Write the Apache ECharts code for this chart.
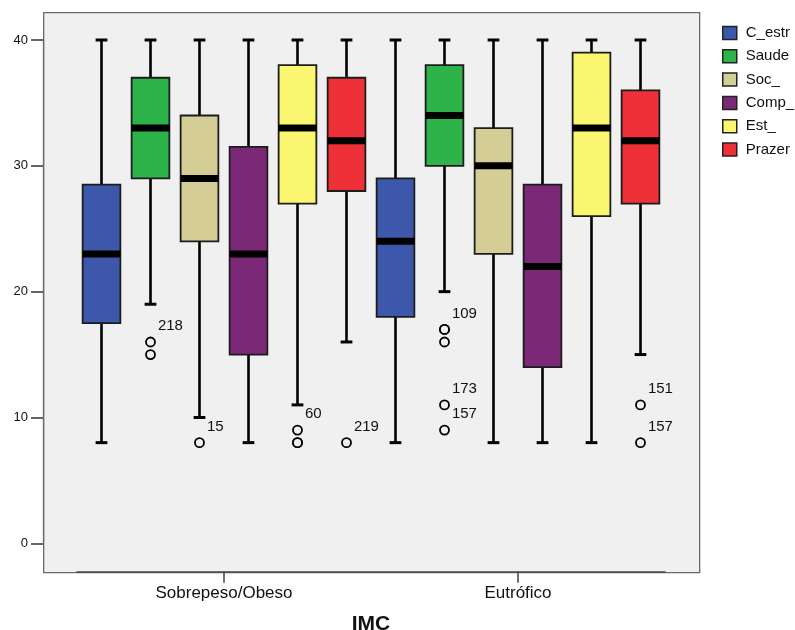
<!DOCTYPE html>
<html>
<head>
<meta charset="utf-8">
<script src="https://cdn.jsdelivr.net/npm/echarts@6/dist/echarts.min.js"></script>
<style>html,body{margin:0;padding:0;background:#fff}#chart{width:795px;height:630px}</style>
</head>
<body>
<div id="chart"></div>
<script>
// ---- data ----
const groups = ['Sobrepeso/Obeso', 'Eutrófico'];
const variables = ['C_estr', 'Saude', 'Soc_', 'Comp_', 'Est_', 'Prazer'];
const yTicks = [0, 10, 20, 30, 40];
// five-number summaries [min, Q1, median, Q3, max] per variable
const boxSobrepeso = [
  [8, 17.5, 23, 28.5, 40],
  [19, 29, 33, 37, 40],
  [10, 24, 29, 34, 40],
  [8, 15, 23, 31.5, 40],
  [11, 27, 33, 38, 40],
  [16, 28, 32, 37, 40]
];
const boxEutrofico = [
  [8, 18, 24, 29, 40],
  [20, 30, 34, 38, 40],
  [8, 23, 30, 33, 40],
  [8, 14, 22, 28.5, 40],
  [8, 26, 33, 39, 40],
  [15, 27, 32, 36, 40]
];
// outliers: [variable index, value, case label]
const outlierSobrepeso = [
  [1, 16, '218'], [1, 15, ''],
  [2, 8, '15'],
  [4, 9, '60'], [4, 8, ''], [4, 8, ''],
  [5, 8, '219']
];
const outlierEutrofico = [
  [1, 17, '109'], [1, 17, ''], [1, 16, ''],
  [1, 11, '173'], [1, 9, '157'],
  [5, 11, '151'], [5, 8, '157']
];

// ---- styles ----
const palette = ['#3d57aa', '#2eb34b', '#d4cd96', '#7b2877', '#fbf66f', '#ee3039'];
const FONT = '"Liberation Sans", Arial, sans-serif';

const nVar = variables.length;
const slots = [];
groups.forEach(g => variables.forEach(v => slots.push(g + ' ' + v)));
const boxesByGroup = [boxSobrepeso, boxEutrofico];
const outliersByGroup = [outlierSobrepeso, outlierEutrofico];

function renderBox(params, api) {
  const x = api.value(0);
  const lo = api.coord([x, api.value(1)]);
  const q1 = api.coord([x, api.value(2)]);
  const md = api.coord([x, api.value(3)]);
  const q3 = api.coord([x, api.value(4)]);
  const hi = api.coord([x, api.value(5)]);
  const band = api.size([1, 0])[0];
  const bw = band * 0.77;
  const cw = band * 0.24;
  const cx = lo[0];
  const color = api.visual('color');
  const wStyle = { stroke: '#000', lineWidth: 2.6 };
  const cStyle = { stroke: '#000', lineWidth: 3 };
  return {
    type: 'group',
    children: [
      { type: 'line', shape: { x1: cx, y1: hi[1], x2: cx, y2: q3[1] }, style: wStyle },
      { type: 'line', shape: { x1: cx, y1: q1[1], x2: cx, y2: lo[1] }, style: wStyle },
      { type: 'line', shape: { x1: cx - cw / 2, y1: hi[1], x2: cx + cw / 2, y2: hi[1] }, style: cStyle },
      { type: 'line', shape: { x1: cx - cw / 2, y1: lo[1], x2: cx + cw / 2, y2: lo[1] }, style: cStyle },
      { type: 'rect', shape: { x: cx - bw / 2, y: q3[1], width: bw, height: q1[1] - q3[1] },
        style: { fill: color, stroke: '#1c1c1c', lineWidth: 1.8 } },
      { type: 'rect', shape: { x: cx - bw / 2, y: md[1] - 3.5, width: bw, height: 7 },
        style: { fill: '#000' } }
    ]
  };
}

const series = variables.map((name, vi) => ({
  name: name,
  type: 'custom',
  xAxisIndex: 0,
  yAxisIndex: 0,
  itemStyle: { color: palette[vi] },
  dimensions: ['slot', 'min', 'Q1', 'median', 'Q3', 'max'],
  encode: { x: 0, y: [1, 2, 3, 4, 5] },
  renderItem: renderBox,
  data: boxesByGroup.map((boxes, gi) => [gi * nVar + vi].concat(boxes[vi]))
}));

const outlierData = [];
outliersByGroup.forEach((list, gi) => list.forEach(o => outlierData.push([gi * nVar + o[0], o[1], o[2]])));

series.push({
  name: 'outliers',
  type: 'scatter',
  xAxisIndex: 0,
  yAxisIndex: 0,
  symbol: 'circle',
  symbolSize: 9,
  itemStyle: { color: '#f0f0f0', borderColor: '#000', borderWidth: 1.8, opacity: 1 },
  label: {
    show: true,
    position: 'right',
    distance: 2,
    offset: [0, -16],
    formatter: p => p.data[2],
    color: '#111',
    fontSize: 15,
    fontFamily: FONT
  },
  emphasis: { disabled: true },
  z: 3,
  data: outlierData
});

const chart = echarts.init(document.getElementById('chart'));
chart.setOption({
  animation: false,
  backgroundColor: '#fff',
  textStyle: { fontFamily: FONT },
  graphic: [{
    type: 'rect',
    left: 43, top: 12,
    shape: { width: 656, height: 560 },
    style: { fill: '#f0f0f0', stroke: '#6a6a6a', lineWidth: 1.3 },
    z: -10,
    silent: true
  }],
  legend: {
    data: variables,
    orient: 'vertical',
    left: 722,
    top: 25.5,
    padding: 0,
    icon: 'rect',
    itemWidth: 14,
    itemHeight: 13,
    itemGap: 8.3,
    itemStyle: { borderColor: '#222', borderWidth: 1.5 },
    textStyle: { fontSize: 15, color: '#111', lineHeight: 15, padding: [0, 0, 0, 4], fontFamily: FONT },
    selectedMode: false
  },
  grid: { left: 77, right: 130, top: 40, bottom: 86.7, containLabel: false, outerBoundsMode: 'none' },
  xAxis: [
    { type: 'category', data: slots, show: false, boundaryGap: true },
    {
      type: 'category', data: groups, position: 'bottom', offset: 28.4, boundaryGap: true,
      axisLine: { show: true, lineStyle: { color: '#444', width: 1.5 } },
      axisTick: { show: true, alignWithLabel: true, length: 11, lineStyle: { color: '#444', width: 1.5 } },
      axisLabel: { fontSize: 17, color: '#111', margin: 13, fontFamily: FONT },
      name: 'IMC', nameLocation: 'middle', nameGap: 42,
      nameTextStyle: { fontSize: 21, fontWeight: 'bold', color: '#111', fontFamily: FONT },
      splitLine: { show: false }
    }
  ],
  yAxis: [{
    type: 'value', min: yTicks[0], max: yTicks[yTicks.length - 1], interval: 10,
    offset: 34,
    axisLine: { show: true, lineStyle: { color: '#6a6a6a', width: 1.3 } },
    axisTick: { show: true, length: 12, lineStyle: { color: '#333', width: 1.5 } },
    axisLabel: { fontSize: 13, color: '#111', margin: 15, fontFamily: FONT },
    splitLine: { show: false }
  }],
  series: series
});
</script>
</body>
</html>
